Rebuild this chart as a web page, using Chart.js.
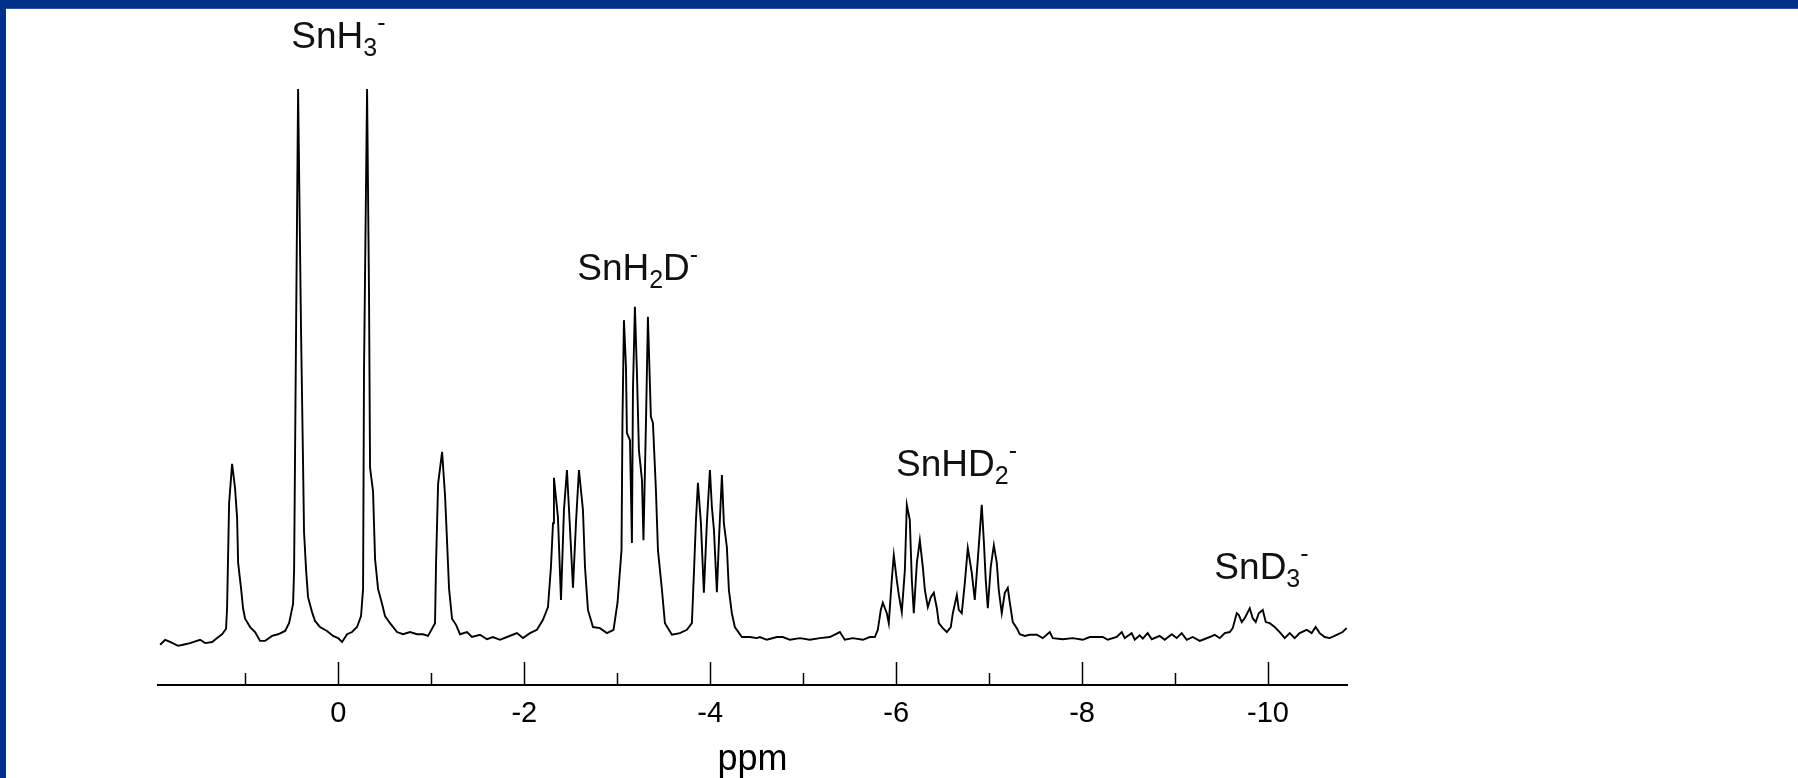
<!DOCTYPE html>
<html>
<head>
<meta charset="utf-8">
<title>SnH3- / SnD3- isotopologue spectrum</title>
<script src="https://cdn.jsdelivr.net/npm/chart.js@4.4.1/dist/chart.umd.min.js"></script>
<style>
  html, body { margin: 0; padding: 0; background: #fff; }
  #wrap { position: relative; width: 1798px; height: 778px; overflow: hidden; }
  #wrap canvas { position: absolute; left: 0; top: 0; }
  .band-top { position: absolute; left: 0; top: 0; width: 1798px; height: 8px; background: #003087; border-bottom: 1px solid #2d54a3; }
  .band-left { position: absolute; left: 0; top: 0; width: 6px; height: 778px; background: #003087; }
</style>
</head>
<body>
<div id="wrap">
  <canvas id="spectrum" width="1798" height="778"></canvas>
  <div class="band-top"></div>
  <div class="band-left"></div>
</div>
<script>
// chemical shift (ppm) and intensity (tallest line = 100)
// SnH3- quartet
const ppmSnH3 = [
  1.917, 1.863, 1.810, 1.724, 1.670, 1.595, 1.487, 1.433, 1.358, 1.304,
  1.251, 1.208, 1.197, 1.175, 1.143, 1.111, 1.089, 1.078, 1.046, 1.025,
  1.003, 0.949, 0.896, 0.842, 0.788, 0.713, 0.648, 0.573, 0.530, 0.487,
  0.476, 0.455, 0.433, 0.401, 0.380, 0.369, 0.347, 0.326, 0.283, 0.251,
  0.197, 0.122, 0.057, 0.003, -0.040, -0.094, -0.147, -0.201, -0.244, -0.266,
  -0.276, -0.309, -0.330, -0.341, -0.373, -0.395, -0.427, -0.470, -0.502, -0.556,
  -0.631, -0.696, -0.771, -0.846, -0.911, -0.965, -1.040, -1.051, -1.073, -1.116,
  -1.148, -1.169, -1.191, -1.223, -1.266, -1.309, -1.384
];
const intSnH3 = [
  -0.5, 0.4, 0.0, -0.7, -0.5, -0.2, 0.4, -0.2, 0.0, 0.7,
  1.4, 2.4, 6.1, 25.1, 32.2, 27.8, 22.4, 14.3, 9.6, 6.1,
  4.2, 2.7, 1.8, 0.2, 0.2, 1.1, 1.4, 2.0, 3.4, 6.9,
  13.0, 55.9, 100, 55.9, 32.7, 19.9, 13.0, 8.1, 5.4, 3.8,
  2.7, 2.0, 1.1, 0.7, 0.0, 1.4, 1.8, 2.7, 4.7, 9.6,
  49.0, 100, 62.7, 31.5, 27.3, 15.0, 9.6, 6.9, 4.7, 3.4,
  1.8, 1.4, 1.8, 1.4, 1.4, 1.1, 3.4, 14.3, 28.6, 34.4,
  26.4, 18.3, 9.6, 4.2, 3.1, 1.4, 1.8
];

// SnH2D- triplet of triplets
const ppmSnH2D = [
  -1.437, -1.523, -1.599, -1.663, -1.738, -1.814, -1.921, -1.986, -2.061, -2.136,
  -2.201, -2.255, -2.287, -2.309, -2.319, -2.362, -2.395, -2.427, -2.459, -2.491,
  -2.524, -2.556, -2.588, -2.631, -2.653, -2.685, -2.739, -2.814, -2.889, -2.960,
  -3.003, -3.046, -3.056, -3.072, -3.094, -3.104, -3.137, -3.158, -3.169, -3.190,
  -3.212, -3.233, -3.266, -3.282, -3.309, -3.330, -3.362, -3.384, -3.416, -3.438,
  -3.481, -3.513, -3.588, -3.674, -3.749, -3.803, -3.825, -3.847, -3.868, -3.900,
  -3.932, -3.964, -3.997, -4.018, -4.040, -4.072, -4.094, -4.126, -4.147, -4.179,
  -4.201, -4.233, -4.265, -4.341, -4.427, -4.502, -4.534, -4.610, -4.717, -4.782,
  -4.857, -4.965, -5.072, -5.180, -5.287, -5.395, -5.448, -5.534, -5.642, -5.717
];
const intSnH2D = [
  0.9, 1.3, 0.5, 0.9, 0.4, 0.9, 1.6, 0.7, 1.6, 2.2,
  4.0, 6.3, 13.6, 21.5, 29.7, 22.6, 7.6, 23.9, 31.1, 20.8,
  9.8, 21.5, 31.1, 23.9, 13.6, 5.8, 2.7, 2.5, 1.6, 2.2,
  7.1, 16.6, 39.6, 58.2, 49.7, 37.8, 36.5, 17.9, 45.6, 60.6,
  48.6, 34.7, 29.3, 18.4, 39.6, 58.8, 40.7, 39.6, 27.5, 16.6,
  9.4, 3.4, 1.3, 1.6, 2.2, 3.4, 12.5, 22.1, 28.8, 21.5,
  8.9, 21.5, 31.1, 24.4, 20.3, 9.0, 18.4, 30.2, 21.5, 17.2,
  9.4, 5.2, 2.7, 0.9, 0.9, 0.7, 0.9, 0.4, 0.9, 0.9,
  0.4, 0.7, 0.4, 0.7, 0.9, 1.8, 0.4, 0.7, 0.4, 0.9
];

// SnHD2- doublet of quintets
const ppmSnHD2 = [
  -5.771, -5.803, -5.835, -5.857, -5.900, -5.921, -5.953, -5.975, -6.007, -6.029,
  -6.061, -6.094, -6.115, -6.147, -6.169, -6.190, -6.223, -6.255, -6.287, -6.309,
  -6.341, -6.373, -6.405, -6.438, -6.459, -6.502, -6.545, -6.588, -6.610, -6.653,
  -6.674, -6.706, -6.739, -6.771, -6.814, -6.846, -6.878, -6.921, -6.943, -6.964,
  -6.986, -7.018, -7.051, -7.083, -7.104, -7.136, -7.169, -7.201, -7.223, -7.255,
  -7.298, -7.330, -7.384, -7.437
];
const intSnHD2 = [
  0.9, 2.2, 5.8, 7.1, 5.2, 3.4, 11.2, 15.7, 11.2, 8.5,
  5.4, 13.0, 24.8, 22.1, 11.2, 5.2, 14.3, 18.4, 13.6, 9.4,
  6.3, 8.1, 8.9, 6.1, 3.4, 2.5, 1.8, 2.7, 5.2, 8.5,
  5.8, 5.2, 10.7, 17.0, 12.5, 7.6, 14.8, 24.8, 18.4, 11.2,
  6.1, 13.6, 17.5, 14.3, 9.4, 5.2, 8.9, 9.8, 7.1, 3.6,
  2.5, 1.4, 1.1, 1.3
];

// SnD3- septet and the tail of the baseline
const ppmSnD3 = [
  -7.513, -7.577, -7.653, -7.685, -7.792, -7.900, -8.007, -8.083, -8.223, -8.276,
  -8.373, -8.427, -8.459, -8.534, -8.567, -8.620, -8.653, -8.706, -8.750, -8.835,
  -8.889, -8.965, -9.018, -9.072, -9.126, -9.190, -9.266, -9.374, -9.427, -9.481,
  -9.535, -9.589, -9.621, -9.664, -9.685, -9.718, -9.750, -9.804, -9.836, -9.868,
  -9.901, -9.944, -9.976, -10.018, -10.072, -10.126, -10.180, -10.234, -10.287, -10.341,
  -10.416, -10.470, -10.513, -10.556, -10.610, -10.664, -10.739, -10.803, -10.846
];
const intSnD3 = [
  1.3, 0.7, 1.8, 0.7, 0.5, 0.7, 0.4, 0.9, 0.9, 0.4,
  0.9, 1.8, 0.7, 1.6, 0.4, 1.2, 0.6, 1.6, 0.5, 1.1,
  0.4, 1.4, 0.7, 1.6, 0.4, 0.9, 0.2, 0.9, 1.3, 0.7,
  1.6, 1.8, 2.5, 5.2, 4.9, 3.6, 4.3, 6.1, 4.3, 3.6,
  5.2, 5.8, 3.6, 3.4, 2.7, 1.8, 0.7, 1.6, 0.7, 1.6,
  2.2, 1.6, 2.7, 1.6, 0.9, 0.7, 1.3, 1.8, 2.5
];

const majorTicks = [0, -2, -4, -6, -8, -10];
const minorTicks = [1, -1, -3, -5, -7, -9];

// species labels: _x = subscript, ^x = superscript
const speciesLabels = ['SnH_3^-', 'SnH_2D^-', 'SnHD_2^-', 'SnD_3^-'];
const labelPpm = [0.0, -3.22, -6.65, -9.93];
const labelHeight = [107.4, 65.5, 30.0, 11.4];

const FONT = '"Liberation Sans", Arial, Helvetica, sans-serif';

const shifts = [...ppmSnH3, ...ppmSnH2D, ...ppmSnHD2, ...ppmSnD3];
const heights = [...intSnH3, ...intSnH2D, ...intSnHD2, ...intSnD3];
const points = shifts.map((x, i) => ({ x: x, y: heights[i] }));

// tick marks stand up from the axis line, long at labelled values
const tickMarks = {
  id: 'tickMarks',
  afterDraw(chart) {
    const { ctx, chartArea } = chart;
    const xs = chart.scales.x;
    const base = chartArea.bottom;
    ctx.save();
    ctx.strokeStyle = '#000';
    ctx.lineWidth = 1.5;
    const mark = (v, len) => {
      const px = Math.round(xs.getPixelForValue(v)) + 0.5;
      ctx.beginPath();
      ctx.moveTo(px, base);
      ctx.lineTo(px, base - len);
      ctx.stroke();
    };
    majorTicks.forEach(v => mark(v, 23));
    minorTicks.forEach(v => mark(v, 12));
    ctx.restore();
  }
};

function parseLabel(s) {
  const parts = [];
  let buf = '';
  for (let i = 0; i < s.length; i++) {
    const c = s[i];
    if (c === '_' || c === '^') {
      if (buf) { parts.push({ t: buf, k: 'n' }); buf = ''; }
      parts.push({ t: s[i + 1], k: c === '_' ? 'sub' : 'sup' });
      i++;
    } else {
      buf += c;
    }
  }
  if (buf) parts.push({ t: buf, k: 'n' });
  return parts;
}

const speciesText = {
  id: 'speciesText',
  afterDatasetsDraw(chart) {
    const { ctx } = chart;
    const xs = chart.scales.x, ys = chart.scales.y;
    const fonts = { n: '37px ' + FONT, sub: '25px ' + FONT, sup: '25px ' + FONT };
    const shiftY = { n: 0, sub: 8, sup: -17 };
    ctx.save();
    ctx.fillStyle = '#111';
    ctx.textBaseline = 'alphabetic';
    ctx.textAlign = 'left';
    speciesLabels.forEach((lab, i) => {
      const parts = parseLabel(lab);
      let w = 0;
      parts.forEach(p => { ctx.font = fonts[p.k]; p.w = ctx.measureText(p.t).width; w += p.w; });
      let x = xs.getPixelForValue(labelPpm[i]) - w / 2;
      const y = ys.getPixelForValue(labelHeight[i]);
      parts.forEach(p => {
        ctx.font = fonts[p.k];
        ctx.fillText(p.t, x, y + shiftY[p.k]);
        x += p.w;
      });
    });
    ctx.restore();
  }
};

new Chart(document.getElementById('spectrum').getContext('2d'), {
  type: 'line',
  data: {
    datasets: [{
      data: points,
      borderColor: '#000',
      borderWidth: 1.9,
      pointRadius: 0,
      tension: 0,
      fill: false,
      clip: 8
    }]
  },
  options: {
    responsive: false,
    animation: false,
    events: [],
    layout: { padding: { left: 158, right: 451, top: 89, bottom: 0 } },
    plugins: {
      legend: { display: false },
      tooltip: { enabled: false }
    },
    scales: {
      x: {
        type: 'linear',
        reverse: true,
        min: -10.85,
        max: 1.94,
        afterBuildTicks: s => { s.ticks = majorTicks.map(v => ({ value: v })); },
        afterFit: s => { s.height = 93; },
        grid: { display: true, drawOnChartArea: false, drawTicks: false },
        border: { display: true, color: '#000', width: 2 },
        ticks: {
          color: '#000',
          font: { family: FONT, size: 29 },
          padding: 12,
          maxRotation: 0,
          autoSkip: false,
          callback: v => String(v)
        },
        title: {
          display: true,
          text: 'ppm',
          color: '#000',
          font: { family: FONT, size: 36, lineHeight: 1.0 },
          padding: { top: 0, bottom: 0 }
        }
      },
      y: { display: false, min: -7.78, max: 100 }
    }
  },
  plugins: [tickMarks, speciesText]
});
</script>
</body>
</html>
